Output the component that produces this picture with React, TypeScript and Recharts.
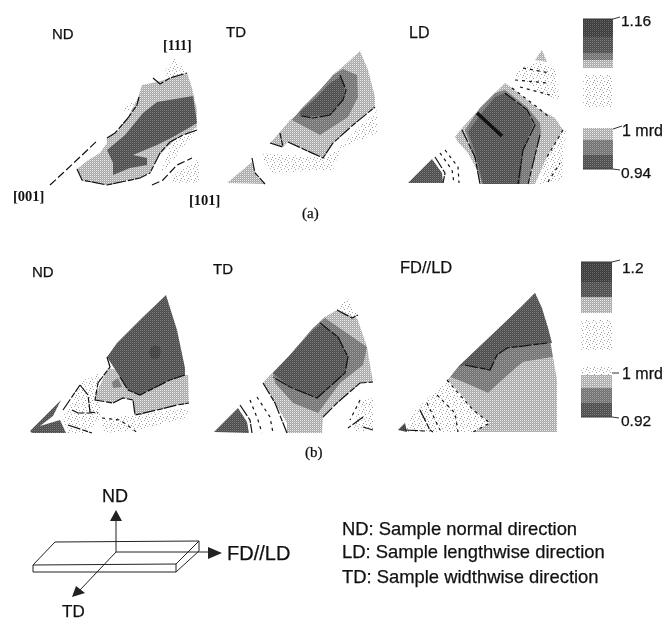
import React from 'react';
import { ScatterChart, Scatter, XAxis, YAxis } from 'recharts';

type P = [number, number];
const W = 665, H = 621;

// ---- panel (a) ND
const aNdLight: P[] = [[77,169],[87,161],[100,153],[107,143],[107,138],[117,132],[128,117],[138,98],[142,85],[157,82],[170,78],[187,73],[192,88],[197,110],[197,127],[190,132],[177,138],[167,147],[157,158],[150,173],[140,178],[107,185],[83,181]];
const aNdDark: P[] = [[107,150],[125,135],[143,113],[157,102],[193,96],[197,123],[187,129],[173,137],[157,145],[133,155],[147,158],[147,165],[130,168],[113,175],[113,163]];
const aNdStip1: P[] = [[163,73],[175,58],[187,73],[170,78]];
const aNdStip2: P[] = [[123,110],[137,98],[132,113]];
const aNdStip3: P[] = [[173,137],[197,130],[190,140],[160,175]];
const aNdStip4: P[] = [[170,177],[200,158],[200,183],[173,183]];
const aNdLines: P[][] = [
  [[107,138],[115,133],[128,118],[137,105],[139,97]],
  [[153,78],[160,84],[170,78],[187,73]],
  [[197,130],[183,135],[170,142],[160,153],[150,173]],
  [[77,169],[82,180],[107,185],[140,178],[150,173]],
];
const aNdDash: P[][] = [
  [[50,185],[63,173],[80,157],[98,140]],
  [[152,185],[163,180],[177,165],[192,158]],
];

// ---- panel (a) TD
const aTdLight: P[] = [[360,51],[368,70],[375,97],[375,107],[353,125],[333,143],[323,158],[310,153],[288,142],[283,147],[270,143],[280,132],[290,120],[307,107],[320,90],[335,73],[347,63]];
const aTdMid: P[] = [[343,69],[357,75],[358,97],[348,117],[320,135],[292,120],[302,108],[320,90],[333,75]];
const aTdDark: P[] = [[340,77],[345,85],[343,100],[330,115],[300,117],[300,112],[317,97],[330,83]];
const aTdTri: P[] = [[227,183],[252,162],[257,177],[265,184]];
const aTdStip1: P[] = [[260,153],[320,157],[340,150],[333,170],[270,173]];
const aTdStip2: P[] = [[353,133],[377,110],[377,133],[337,150]];
const aTdLines: P[][] = [
  [[340,75],[346,90],[343,100],[330,115],[313,118],[302,116]],
  [[252,158],[255,173],[265,184]],
  [[270,143],[283,147],[280,133]],
  [[288,142],[323,158],[333,143],[353,125],[375,107]],
];

// ---- panel (a) LD
const aLdApex: P[] = [[542,50],[547,62],[535,60]];
const aLdStip: P[] = [[523,67],[540,62],[555,68],[560,100],[545,95],[515,75]];
const aLdStip2: P[] = [[548,130],[566,130],[562,180],[540,184]];
const aLdBand: P[] = [[455,137],[462,128],[480,108],[495,93],[505,83],[512,88],[537,108],[555,118],[563,130],[547,157],[535,184],[480,184],[477,170],[468,153],[458,142]];
const aLdMid: P[] = [[465,130],[480,108],[495,93],[505,90],[527,107],[540,123],[541,133],[527,184],[482,184],[473,153]];
const aLdDark: P[] = [[468,132],[480,115],[495,97],[505,93],[527,112],[533,125],[523,150],[520,184],[483,184],[475,152]];
const aLdTri: P[] = [[408,183],[432,159],[442,173],[443,183]];
const aLdBlack: P[][] = [[[477,113],[502,136]]];
const aLdLines: P[][] = [
  [[462,130],[475,157],[480,184]],
  [[505,93],[527,110],[535,125],[523,150],[518,184]],
  [[540,135],[528,184]],
  [[435,157],[445,173],[443,183]],
];
const aLdDash: P[][] = [
  [[512,88],[537,107],[549,117]],
  [[440,153],[452,170],[454,183]],
  [[445,150],[458,167],[459,183]],
  [[523,68],[550,73]],
  [[515,80],[548,83]],
  [[520,87],[550,95]],
  [[563,130],[547,157]],
  [[548,182],[560,163]],
];

// ---- panel (b) ND
const bNdLight: P[] = [[108,368],[117,370],[128,390],[140,395],[170,375],[188,375],[189,403],[177,405],[157,410],[135,415],[133,400],[123,398],[113,403],[95,400],[97,392]];
const bNdDark: P[] = [[166,295],[177,330],[185,368],[185,375],[170,380],[140,395],[128,390],[120,377],[107,357],[117,343],[143,317]];
const bNdSpot: P[] = [[149,352],[151,347],[155,345],[160,347],[161,352],[159,358],[155,359],[151,358]];
const bNdMid: P[] = [[112,382],[118,378],[122,387],[113,388]];
const bNdStrip: P[] = [[30,431],[61,400],[53,416],[40,426],[60,420],[66,433],[32,433]];
const bNdStip: P[] = [[63,417],[84,380],[100,373],[100,420],[87,433],[67,433]];
const bNdStip2: P[] = [[100,420],[130,415],[188,408],[188,418],[140,430],[105,433]];
const bNdLines: P[][] = [
  [[107,357],[110,367],[98,383],[95,400],[113,403],[123,398],[133,400],[135,415],[157,410],[177,405],[189,403]],
  [[63,410],[80,385]],
  [[80,385],[88,395],[90,412],[98,413]],
  [[120,377],[128,390],[140,395],[170,380],[185,375]],
  [[72,410],[78,413],[92,413]],
  [[68,425],[92,433]],
];
const bNdDash: P[][] = [[[102,418],[120,420],[138,433]]];

// ---- panel (b) TD
const bTdStipApex: P[] = [[337,310],[347,297],[357,315],[352,318]];
const bTdStipRight: P[] = [[360,400],[373,398],[373,430],[353,432]];
const bTdLight: P[] = [[337,310],[357,318],[367,347],[373,382],[360,383],[337,403],[323,417],[322,433],[287,433],[287,423],[275,403],[263,383],[270,375],[290,355],[313,328],[323,318]];
const bTdMid: P[] = [[325,318],[338,327],[367,347],[363,365],[340,383],[318,413],[293,403],[275,383],[273,373],[290,355],[313,328]];
const bTdDark: P[] = [[320,325],[337,335],[348,357],[345,373],[317,398],[290,387],[273,373],[290,355],[313,330]];
const bTdTri: P[] = [[214,432],[238,408],[247,422],[249,433]];
const bTdLines: P[][] = [
  [[320,323],[338,337],[348,357],[345,373],[317,398],[290,387],[273,377]],
  [[263,383],[275,403],[287,433]],
  [[323,417],[337,403],[360,383],[373,382]],
  [[337,310],[352,318],[358,315]],
  [[240,405],[250,420],[252,433]],
  [[363,417],[348,428]],
  [[363,427],[373,430]],
];
const bTdDash: P[][] = [
  [[250,400],[258,420],[262,433]],
  [[257,397],[270,417],[273,433]],
  [[360,400],[350,420]],
];

// ---- panel (b) FD//LD
const bFdLight: P[] = [[447,380],[450,377],[463,382],[488,393],[510,373],[523,362],[553,357],[557,380],[557,432],[473,432],[490,423],[473,410],[460,393]];
const bFdMid: P[] = [[450,377],[458,367],[497,330],[520,308],[535,293],[548,328],[553,357],[523,362],[510,373],[488,393],[463,382]];
const bFdDark: P[] = [[535,293],[542,308],[548,328],[552,343],[525,345],[507,348],[497,355],[490,370],[465,365],[458,367],[497,330],[520,308]];
const bFdStip: P[] = [[447,380],[473,410],[490,423],[475,432],[405,432],[415,410]];
const bFdBlob: P[] = [[398,430],[405,423],[407,432]];
const bFdLines: P[][] = [
  [[465,365],[490,370],[497,355],[507,348],[547,343]],
  [[405,430],[425,431]],
  [[420,410],[430,430],[433,432]],
];
const bFdDash: P[][] = [
  [[427,403],[440,430]],
  [[437,395],[455,413],[458,432]],
  [[447,380],[473,410],[490,423],[473,432]],
];

// ---- colour scales
const barA = { x0: 583, x1: 613 };
const barB = { x0: 581, x1: 612 };
const barABands: [number, number, string][] = [
  [19, 37, 'pDeep'], [37, 53, 'pDark'], [53, 60, 'pMid'], [60, 68, 'pLight'], [75, 107, 'pStip'],
  [128, 140, 'pLight'], [140, 155, 'pMid'], [155, 169, 'pDark'],
];
const barBBands: [number, number, string][] = [
  [262, 282, 'pDeep'], [282, 297, 'pDark'], [297, 303, 'pLight'], [303, 313, 'pLight'], [320, 350, 'pStip'],
  [367, 375, 'pStip'], [375, 388, 'pLight'], [388, 403, 'pMid'], [403, 417, 'pDark'],
];
const barTicks: P[][] = [
  [[583,19],[613,19],[620,17]], [[613,129],[622,126]], [[583,169],[613,169],[620,170]],
  [[581,262],[612,262],[620,260]], [[612,373],[619,373]], [[581,417],[612,417],[619,418]],
];

// ---- sample sketch
const plate: P[] = [[55,542],[199,541],[199,551],[176,572],[33,572],[33,565]];
const plateLines: P[][] = [
  [[33,565],[176,564],[199,541]],
  [[176,564],[176,572]],
  [[116,521],[116,552]],
  [[116,552],[208,552]],
  [[116,552],[80,590]],
];
const arrowND: P[] = [[116,510],[110,521],[122,521]];
const arrowLD: P[] = [[208,547],[222,553],[208,559]];
const arrowTD: P[] = [[72,597],[76,586],[85,593]];

// ---- text
const SANS = '"Liberation Sans", Arial, sans-serif';
const SERIF = '"Liberation Serif", serif';
type L = { x: number; y: number; text: string; size: number; font: string; weight?: number };
const labels: L[] = [
  { x: 52, y: 39, text: 'ND', size: 15, font: SANS },
  { x: 226, y: 37, text: 'TD', size: 15, font: SANS },
  { x: 409, y: 38, text: 'LD', size: 16, font: SANS },
  { x: 163, y: 50, text: '[111]', size: 14, font: SERIF, weight: 700 },
  { x: 13, y: 201, text: '[001]', size: 14.5, font: SERIF, weight: 700 },
  { x: 189, y: 205, text: '[101]', size: 14.5, font: SERIF, weight: 700 },
  { x: 302, y: 218, text: '(a)', size: 15, font: SERIF },
  { x: 305, y: 457, text: '(b)', size: 15, font: SERIF },
  { x: 32, y: 277, text: 'ND', size: 15, font: SANS },
  { x: 213, y: 274, text: 'TD', size: 15, font: SANS },
  { x: 400, y: 273, text: 'FD//LD', size: 16.5, font: SANS },
  { x: 621, y: 26, text: '1.16', size: 15.5, font: SANS },
  { x: 622, y: 136, text: '1 mrd', size: 16, font: SANS },
  { x: 621, y: 178, text: '0.94', size: 15.5, font: SANS },
  { x: 622, y: 273, text: '1.2', size: 15.5, font: SANS },
  { x: 622, y: 379, text: '1 mrd', size: 16, font: SANS },
  { x: 621, y: 426, text: '0.92', size: 15.5, font: SANS },
  { x: 102, y: 502, text: 'ND', size: 18, font: SANS },
  { x: 227, y: 560, text: 'FD//LD', size: 20, font: SANS },
  { x: 62, y: 617, text: 'TD', size: 17, font: SANS },
  { x: 342, y: 535, text: 'ND: Sample normal direction', size: 18.4, font: SANS },
  { x: 342, y: 558, text: 'LD: Sample lengthwise direction', size: 18.4, font: SANS },
  { x: 342, y: 583, text: 'TD: Sample widthwise direction', size: 18.4, font: SANS },
];

const toData = (pts: P[]) => pts.map(([x, y]) => ({ x, y }));
const noDot = () => <g />;

let keyN = 0;
function region(pts: P[], fill: string) {
  return (
    <Scatter
      key={`r${keyN++}`}
      data={toData(pts)}
      shape={noDot}
      isAnimationActive={false}
      line={(p: any) => (
        <polygon points={p.points.map((q: any) => `${q.x},${q.y}`).join(' ')} fill={fill} stroke="none" />
      )}
    />
  );
}
function contour(pts: P[], w = 1.2, dash = '13 2 6 1', color = '#111') {
  return (
    <Scatter
      key={`c${keyN++}`}
      data={toData(pts)}
      shape={noDot}
      isAnimationActive={false}
      line={(p: any) => (
        <polyline points={p.points.map((q: any) => `${q.x},${q.y}`).join(' ')} fill="none" stroke={color} strokeWidth={w} strokeDasharray={dash} />
      )}
    />
  );
}
const bandPts = (x0: number, x1: number, y0: number, y1: number): P[] => [[x0, y0], [x1, y0], [x1, y1], [x0, y1]];

function Tile({ id, size, base, dots }: { id: string; size: number; base: string; dots: [number, number, string][] }) {
  return (
    <pattern id={id} width={size} height={size} patternUnits="userSpaceOnUse">
      <rect width={size} height={size} fill={base} />
      {dots.map(([x, y, c], i) => <rect key={i} x={x} y={y} width={1} height={1} fill={c} />)}
    </pattern>
  );
}

export default function App() {
  const u = (n: string) => `url(#${n})`;
  return (
    <div style={{ position: 'absolute', left: 0, top: 0, width: W, height: H, filter: 'blur(0.35px)' }}>
      <ScatterChart width={W} height={H} margin={{ top: 0, right: 0, bottom: 0, left: 0 }}>
        <defs>
          <Tile id="pDeep" size={2} base="#3a3a3a" dots={[[0,0,'#6a6a6a'],[1,1,'#4c4c4c']]} />
          <Tile id="pDark" size={2} base="#4b4b4b" dots={[[0,0,'#7e7e7e'],[1,1,'#5e5e5e']]} />
          <Tile id="pMid" size={2} base="#6f6f6f" dots={[[0,0,'#a0a0a0'],[1,1,'#848484']]} />
          <Tile id="pLight" size={2} base="#a8a8a8" dots={[[0,0,'#ececec'],[1,1,'#bbbbbb']]} />
          <Tile id="pStip" size={7} base="#ffffff" dots={[[1,1,'#999'],[4,0,'#bbb'],[6,3,'#999'],[2,4,'#aaa'],[5,5,'#999'],[0,6,'#bbb']]} />
        </defs>
        <XAxis type="number" dataKey="x" domain={[0, W]} hide />
        <YAxis type="number" dataKey="y" domain={[0, H]} reversed hide />

        {/* (a) ND */}
        {[aNdStip1, aNdStip2, aNdStip3, aNdStip4].map((s) => region(s, u('pStip')))}
        {region(aNdLight, u('pLight'))}
        {region(aNdDark, u('pDark'))}
        {aNdLines.map((l) => contour(l))}
        {aNdDash.map((l) => contour(l, 1.2, '8 3'))}

        {/* (a) TD */}
        {region(aTdStip1, u('pStip'))}
        {region(aTdStip2, u('pStip'))}
        {region(aTdLight, u('pLight'))}
        {region(aTdMid, u('pMid'))}
        {region(aTdDark, u('pDark'))}
        {region(aTdTri, u('pLight'))}
        {aTdLines.map((l) => contour(l))}

        {/* (a) LD */}
        {region(aLdStip, u('pStip'))}
        {region(aLdStip2, u('pStip'))}
        {region(aLdApex, u('pLight'))}
        {region(aLdBand, u('pLight'))}
        {region(aLdMid, u('pMid'))}
        {region(aLdDark, u('pDark'))}
        {region(aLdTri, u('pDark'))}
        {aLdBlack.map((l) => contour(l, 3.5, 'none'))}
        {aLdLines.map((l) => contour(l))}
        {aLdDash.map((l) => contour(l, 1.2, '3 4'))}

        {/* (b) ND */}
        {region(bNdStip, u('pStip'))}
        {region(bNdStip2, u('pStip'))}
        {region(bNdLight, u('pLight'))}
        {region(bNdDark, u('pDark'))}
        {region(bNdSpot, u('pDeep'))}
        {region(bNdMid, u('pMid'))}
        {region(bNdStrip, u('pDark'))}
        {bNdLines.map((l) => contour(l))}
        {bNdDash.map((l) => contour(l, 1.2, '3 4'))}

        {/* (b) TD */}
        {region(bTdStipApex, u('pStip'))}
        {region(bTdStipRight, u('pStip'))}
        {region(bTdLight, u('pLight'))}
        {region(bTdMid, u('pMid'))}
        {region(bTdDark, u('pDark'))}
        {region(bTdTri, u('pDark'))}
        {bTdLines.map((l) => contour(l))}
        {bTdDash.map((l) => contour(l, 1.2, '3 4'))}

        {/* (b) FD//LD */}
        {region(bFdStip, u('pStip'))}
        {region(bFdLight, u('pLight'))}
        {region(bFdMid, u('pMid'))}
        {region(bFdDark, u('pDark'))}
        {region(bFdBlob, u('pDeep'))}
        {bFdLines.map((l) => contour(l))}
        {bFdDash.map((l) => contour(l, 1.2, '3 4'))}

        {/* colour scales */}
        {barABands.map(([a, b, f]) => region(bandPts(barA.x0, barA.x1, a, b), u(f)))}
        {barBBands.map(([a, b, f]) => region(bandPts(barB.x0, barB.x1, a, b), u(f)))}
        {barTicks.map((l) => contour(l, 1, 'none', '#333'))}

        {/* sample sketch */}
        {contour([...plate, plate[0]], 1, 'none', '#222')}
        {plateLines.map((l) => contour(l, 1, 'none', '#222'))}
        {region(arrowND, '#222')}
        {region(arrowLD, '#222')}
        {region(arrowTD, '#222')}

        {/* text */}
        <Scatter
          data={labels}
          isAnimationActive={false}
          shape={(p: any) => (
            <text x={p.cx} y={p.cy} fontFamily={p.payload.font} fontSize={p.payload.size} fontWeight={p.payload.weight ?? 400} fill="#111" stroke="#111" strokeWidth={p.payload.weight ? 0 : 0.25}>
              {p.payload.text}
            </text>
          )}
        />
      </ScatterChart>
    </div>
  );
}
